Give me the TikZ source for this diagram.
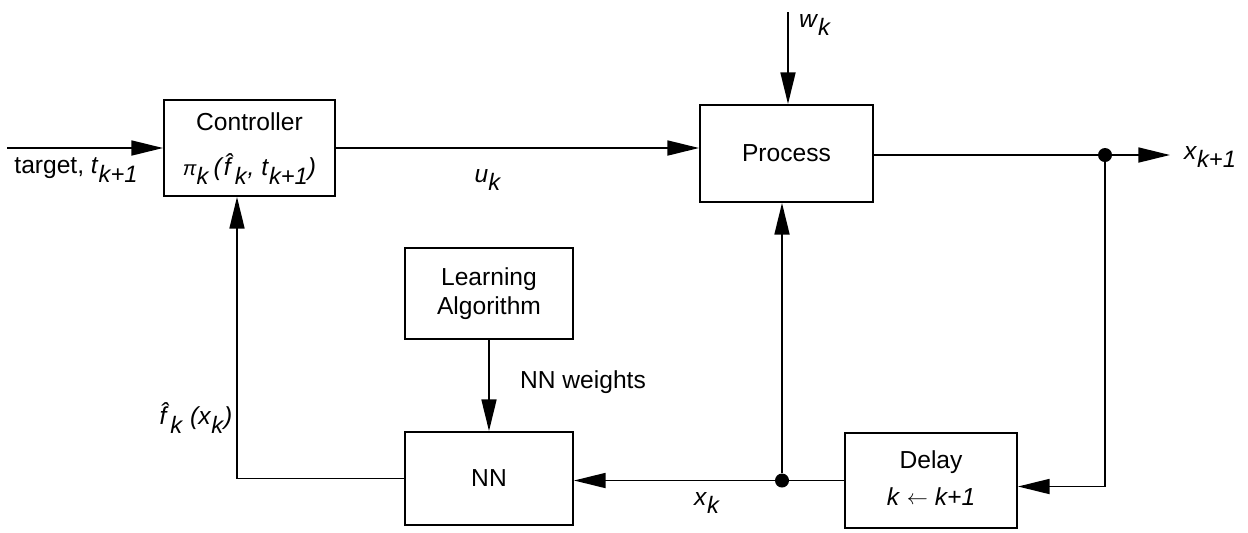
\documentclass[tikz,border=0pt]{standalone}
\usepackage{fontspec}
\setmainfont{Liberation Sans}
\usetikzlibrary{arrows.meta}
\newcommand{\lsub}[1]{\raisebox{-4.8pt}{\fontsize{13.5}{14}\selectfont\textit{#1}}}
\newcommand{\fhat}{\textit{f̂}}
\begin{document}
\begin{tikzpicture}[x=0.02cm,y=-0.02cm,
  every node/.style={font=\fontsize{14}{16.5}\selectfont},
  blk/.style={draw,line width=1.1pt,rectangle,inner sep=0pt,align=center},
  arr/.style={line width=1.1pt,-{Triangle[length=18pt,width=8.5pt]}},
  ln/.style={line width=1.1pt},
  dot/.style={circle,fill,inner sep=0pt,minimum size=0.28cm}]
\useasboundingbox (0,0) rectangle (1248,532);
% blocks
\node[blk,minimum width=3.42cm,minimum height=1.92cm] (ctrl) at (249.5,148) {};
\node (ctrlt) at (249.5,122) {Controller};
\node (ctrlf) at (249.5,169) {{\fontsize{11.5}{12}\selectfont\textit{π}}\lsub{k}\,\textit{(}\fhat\lsub{k}\textit{, t}\lsub{k+1}\textit{)}};
\node[blk,minimum width=3.46cm,minimum height=1.94cm] (proc) at (786.5,153.5) {Process};
\node[blk,minimum width=3.36cm,minimum height=1.82cm] (learn) at (489,293.5) {Learning\\Algorithm};
\node[blk,minimum width=3.36cm,minimum height=1.86cm] (nn) at (489,478.5) {NN};
\node[blk,minimum width=3.44cm,minimum height=1.9cm] (delay) at (931,480.5) {};
\node (delayt) at (931,462) {Delay};
\node (delayk) at (931,497) {\textit{k} \raisebox{1pt}{\fontsize{12}{12}\selectfont$\leftarrow$} \textit{k+1}};
% coordinates
\coordinate (tin) at (7,148);
\coordinate (win) at (788,12);
\node[dot] (d1) at (1105,155) {};
\coordinate (xout) at (1170,155);
\node[dot] (d2) at (782,480.5) {};
\coordinate (fb) at (237,478.5);
% connectors
\draw[arr] (tin) -- (tin -| ctrl.west);
\draw[arr] (ctrl.east) -- (ctrl.east -| proc.west);
\draw[arr] (win) -- (win |- proc.north);
\draw[ln] (proc.east |- d1) -- (d1);
\draw[arr] (d1) -- (xout);
\draw[arr] (d1) |- ([yshift=-0.12cm]delay.east);
\draw[ln] (delay.west) -- (d2);
\draw[arr] (d2) -- (d2 -| nn.east);
\draw[arr] (d2) -- (d2 |- proc.south);
\draw[arr] (learn.south) -- (nn.north);
\draw[ln] (nn.west) -- (fb);
\draw[arr] (fb) -- (fb |- ctrl.south);
% labels
\node (tlab) at (76,170) {target, \textit{t}\lsub{k+1}};
\node (ulab) at (488,180) {\textit{u}\lsub{k}};
\node (wlab) at (815,25) {\textit{w}\lsub{k}};
\node (xlab) at (1210,157) {\textit{x}\lsub{k+1}};
\node (xklab) at (707,503) {\textit{x}\lsub{k}};
\node (flab) at (196,418) {\fhat\lsub{k} \textit{(x}\lsub{k}\textit{)}};
\node (wts) at (583,382) {NN weights};
\end{tikzpicture}
\end{document}
